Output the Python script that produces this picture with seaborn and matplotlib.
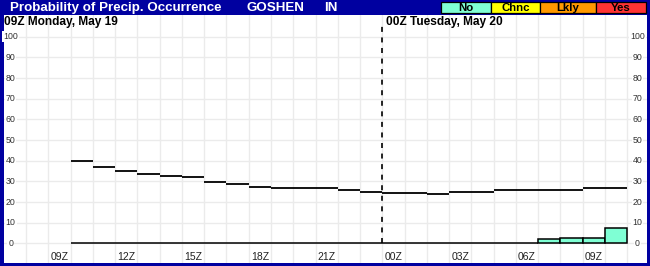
import matplotlib
matplotlib.use("Agg")
import matplotlib.pyplot as plt
import seaborn as sns
import pandas as pd
from matplotlib.patches import Rectangle
from matplotlib.transforms import blended_transform_factory

# ---------------- data ----------------
hours = list(range(10, 35))  # hour start, counted from 00Z Monday
pop_line = [40, 37, 35, 33.5, 32.5, 32, 29.5, 28.5, 27.5, 27, 27, 27, 26, 25,
            24.3, 24.3, 23.7, 25, 25, 26, 26, 26, 26, 26.6, 26.6]
occurrence = [0] * 21 + [2, 2.5, 2.5, 7.3]
xtick_hours = [9, 12, 15, 18, 21, 24, 27, 30, 33]
xtick_labels = ["09Z", "12Z", "15Z", "18Z", "21Z", "00Z", "03Z", "06Z", "09Z"]
ytick_values = list(range(0, 101, 10))
legend_labels = ["No", "Chnc", "Lkly", "Yes"]
legend_colors = ["#7FFFD4", "#FFFF00", "#FF9900", "#FF3333"]
title = "Probability of Precip. Occurrence"
location = "GOSHEN"
state = "IN"
day1 = "09Z Monday, May 19"
day2 = "00Z Tuesday, May 20"
day_break_hour = 24

# ---------------- style ----------------
sns.set_style("white")
plt.rcParams["font.family"] = ["Liberation Sans", "DejaVu Sans"]
plt.rcParams["lines.scale_dashes"] = False

W, H = 650, 266
NAVY = "#0000A0"
GRID = "#EBEBEB"

fig = plt.figure(figsize=(W / 100, H / 100), dpi=100, facecolor=NAVY)

def px(x0, y0, w, h):
    return [x0 / W, (H - y0 - h) / H, w / W, h / H]

ax = fig.add_axes(px(4, 15, 642.5, 248))
ax.set_facecolor("white")

x_lo, px_per_hr = 7, 22.25
y0_px, px_per_unit = 243.3, 2.065
XLIM = (x_lo, x_lo + 642.5 / px_per_hr)
YLIM = ((y0_px - 263) / px_per_unit, (y0_px - 15) / px_per_unit)

# grid
ax.set_xticks(list(range(8, 36)), minor=True)
ax.set_xticks([])
ax.set_yticks(ytick_values)
ax.grid(which="minor", axis="x", color=GRID, lw=1)
ax.grid(which="major", axis="y", color=GRID, lw=1)
ax.tick_params(which="both", length=0, labelleft=False, labelbottom=False)
for s in ax.spines.values():
    s.set_visible(False)
ax.set_axisbelow(True)

# bars
df = pd.DataFrame({"x": [h + 0.5 for h in hours], "y": occurrence})
sns.barplot(data=df, x="x", y="y", native_scale=True, width=1,
            color=legend_colors[0], saturation=1, edgecolor="black",
            linewidth=1.1, errorbar=None, ax=ax, zorder=3)

# step line (horizontal segments only)
ax.hlines(pop_line, hours, [h + 1 for h in hours], colors="black",
          lw=1.3, zorder=4)

# day break dashed line
ax.vlines(day_break_hour, 0, 105.5, colors="black", lw=1.2,
          linestyles=(0, (3.6, 4.0)), zorder=4)

ax.set_xlim(*XLIM)
ax.set_ylim(*YLIM)
ax.set_xlabel("")
ax.set_ylabel("")

# y labels inside both sides
trans = blended_transform_factory(ax.transAxes, ax.transData)
for v in ytick_values:
    for xa in (6.7 / 642.5, 633.3 / 642.5):
        ax.text(xa, v, str(v), transform=trans, ha="center", va="center",
                fontsize=6.3, color="#333333", zorder=5,
                bbox=dict(fc="white", ec="none", pad=0.6))

# x labels
for h, lab in zip(xtick_hours, xtick_labels):
    ax.text(h + 0.5, (y0_px - 256.8) / px_per_unit, lab, ha="center",
            va="center", fontsize=7.5, color="#222222", zorder=5)

# header texts
for xpos, txt in ((10, title), (246.5, location), (324, state)):
    fig.text(xpos / W, 1 - 8 / H, txt, color="white", fontsize=9.6,
             fontweight="bold", va="center", ha="left")

# legend boxes
edges = [440.7, 490.7, 540, 595.7, 646]
for i, (lab, col) in enumerate(zip(legend_labels, legend_colors)):
    x0, x1 = edges[i], edges[i + 1]
    fig.add_artist(Rectangle((x0 / W, (H - 12.8) / H), (x1 - x0) / W, 11.1 / H,
                             transform=fig.transFigure, fc=col, ec="black",
                             lw=0.9))
    fig.text((x0 + x1) / 2 / W, 1 - 7.6 / H, lab, ha="center", va="center",
             fontsize=8.2, fontweight="bold", color="black")

# day subtitles
fig.text(4 / W, 1 - 25.3 / H, day1, fontsize=8.6, fontweight="bold",
         color="black", va="baseline", ha="left")
fig.text(385.5 / W, 1 - 25.3 / H, day2, fontsize=8.6, fontweight="bold",
         color="black", va="baseline", ha="left")

fig.savefig("out.png", dpi=100, facecolor=NAVY)
